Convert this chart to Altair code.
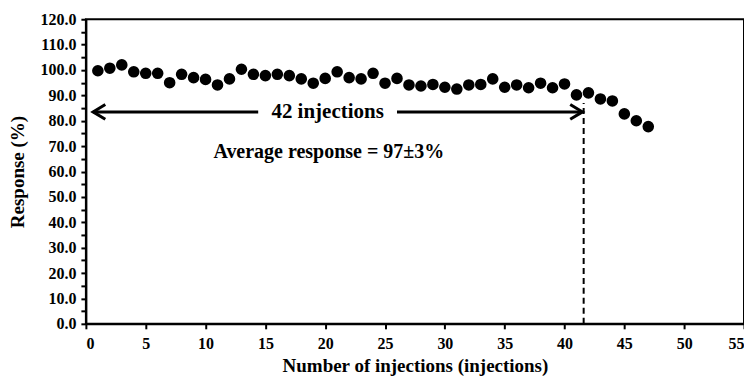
import altair as alt
import pandas as pd

injections = list(range(1, 48))
response = [99.7, 100.7, 102.0, 99.3, 98.7, 98.7, 95.0, 98.3, 97.0, 96.3,
            94.1, 96.5, 100.3, 98.3, 97.8, 98.3, 97.8, 96.5, 94.8, 96.7,
            99.3, 97.0, 96.5, 98.7, 94.8, 96.7, 94.1, 93.7, 94.3, 93.2,
            92.5, 94.1, 94.3, 96.5, 93.2, 94.1, 93.0, 94.8, 93.0, 94.5,
            90.2, 91.0, 88.6, 87.8, 82.7, 80.0, 77.7]

arrow_y = 83.5
arrow_start = [0.6, 26.0]
arrow_end = [14.4, 41.5]
cutoff_x = 41.6
cutoff_top = 87.0
label_42 = "42 injections"
label_avg = "Average response = 97\u00b13%"

FONT = "Times New Roman, Liberation Serif, serif"

df = pd.DataFrame({"x": injections, "y": response})

xscale = alt.Scale(domain=[0, 55], nice=False, zero=False)
yscale = alt.Scale(domain=[0, 120], nice=False)

x_ticks = [i * 2.5 for i in range(23)]
y_major = [i * 10 for i in range(13)]
y_minor = [i * 10 + 5 for i in range(12)]


def X(f="x"):
    return alt.X(f"{f}:Q", scale=xscale)


def Y(f="y"):
    return alt.Y(f"{f}:Q", scale=yscale, axis=None)


points = alt.Chart(df).mark_circle(size=135, color="black", opacity=1).encode(
    x=alt.X("x:Q", scale=xscale,
            axis=alt.Axis(title="Number of injections (injections)", values=x_ticks,
                          labelExpr="datum.value % 5 == 0 ? format(datum.value, 'd') : ''",
                          labelOverlap=False, grid=False)),
    y=alt.Y("y:Q", scale=yscale,
            axis=alt.Axis(title="Response (%)", values=y_major, format=".1f",
                          labelOverlap=False, grid=False)),
)

minor_df = pd.DataFrame({"y": y_minor})
minor = alt.Chart(minor_df).mark_point(opacity=0).encode(
    y=alt.Y("y:Q", scale=yscale,
            axis=alt.Axis(title=None, values=y_minor, labels=False, domain=False,
                          grid=False, orient="left")))

seg_df = pd.DataFrame({"x": arrow_start, "x2": arrow_end, "y": [arrow_y] * 2})
segments = alt.Chart(seg_df).mark_rule(color="black", strokeWidth=3).encode(
    x=X(), x2="x2:Q", y=Y())

heads_df = pd.DataFrame({"x": [arrow_start[0], arrow_end[1]],
                         "y": [arrow_y, arrow_y], "side": ["L", "R"]})
left_head = alt.Chart(heads_df[heads_df.side == "L"]).mark_point(
    shape="M 1 -0.6 L 0 0 L 1 0.6", filled=False, color="black", strokeWidth=3,
    size=600, opacity=1).encode(x=X(), y=Y())
right_head = alt.Chart(heads_df[heads_df.side == "R"]).mark_point(
    shape="M -1 -0.6 L 0 0 L -1 0.6", filled=False, color="black", strokeWidth=3,
    size=600, opacity=1).encode(x=X(), y=Y())

cut_df = pd.DataFrame({"x": [cutoff_x], "y": [0], "y2": [cutoff_top]})
cutoff = alt.Chart(cut_df).mark_rule(color="black", strokeWidth=2, strokeDash=[6, 4]).encode(
    x=X(), y=Y(), y2="y2:Q")

txt_df = pd.DataFrame({"x": [20.2, 20.3], "y": [arrow_y, 67.7], "t": [label_42, label_avg]})
t1 = alt.Chart(txt_df.iloc[[0]]).mark_text(font=FONT, fontWeight="bold", fontSize=21,
                                           color="black").encode(x=X(), y=Y(), text="t:N")
t2 = alt.Chart(txt_df.iloc[[1]]).mark_text(font=FONT, fontWeight="bold", fontSize=20,
                                           color="black").encode(x=X(), y=Y(), text="t:N")

chart = alt.layer(points, minor, segments, left_head, right_head, cutoff, t1, t2).resolve_axis(
    y="independent"
).properties(
    width=659, height=305,
    autosize=alt.AutoSizeParams(type="none"),
    padding={"left": 78, "top": 11, "right": 0, "bottom": 55},
).configure_view(stroke="black", strokeWidth=2).configure_axis(
    domainColor="black", domainWidth=2, tickColor="black", tickWidth=2, tickSize=5,
    labelFont=FONT, labelFontWeight="bold", labelFontSize=16, labelColor="black",
    titleFont=FONT, titleFontWeight="bold", titleFontSize=19, titleColor="black",
).configure_axisX(labelPadding=7, titlePadding=5).configure_axisY(labelPadding=5, titlePadding=12)

chart.save("out.html", embed_options={"renderer": "svg", "actions": False})
